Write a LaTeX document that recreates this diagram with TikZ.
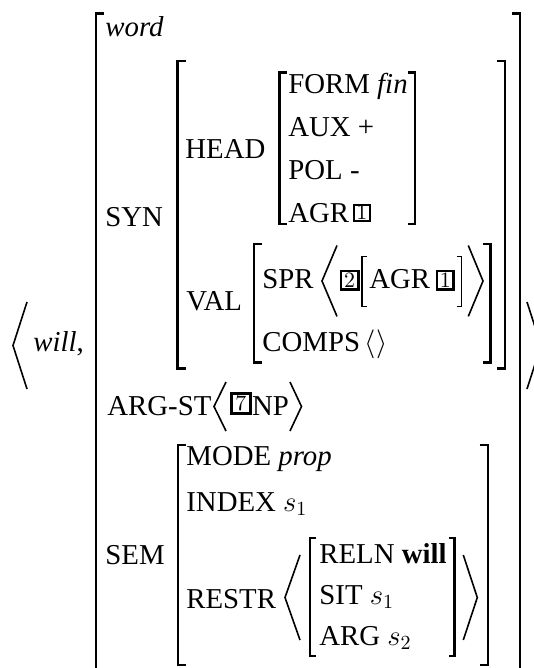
\documentclass[tikz,border=0pt]{standalone}
\usepackage[no-math]{fontspec}
\setmainfont{Liberation Serif}
\newcommand\avmsize{\fontsize{14.4}{17}\selectfont}
\newcommand\tagsize{\fontsize{11}{13}\selectfont}
% left / right square brackets of an attribute-value matrix:
% {x}{top}{bottom}{foot length}
\newcommand\avmL[4]{({#1+#4},#2) -| (#1,#3) -- ({#1+#4},#3)}
\newcommand\avmR[4]{({#1-#4},#2) -| (#1,#3) -- ({#1-#4},#3)}
\begin{document}
\begin{tikzpicture}[x=0.5pt,y=-0.5pt,
  lbl/.style={anchor=base west, inner sep=0pt, font=\avmsize},
  brk/.style={line width=1.15pt},
  outerbrk/.style={line width=1.35pt},
  thinbrk/.style={line width=0.65pt},
  ang/.style={line width=0.8pt},
  tagbox/.style={draw, line width=1.2pt, inner sep=0pt, font=\tagsize},
]
\useasboundingbox (0,0) rectangle (534,668);
\clip (0,0) rectangle (534,668);

% ---- outer list < will, [...] >
\draw[ang] (27,302) -- (13,345.5) -- (27,389);
\draw[ang] (527,302) -- (541,345.5) -- (527,389);
\node[lbl] (lex) at (33,351) {\textit{will},};

% ---- word-level matrix
\draw[outerbrk] \avmL{96}{13.6}{720}{8};
\draw[outerbrk] \avmR{520}{13.6}{720}{8};
\node[lbl] (type) at (105,36.5) {\textit{word}};

% ---- SYN
\node[lbl] (syn) at (105,226.5) {SYN};
\draw[brk] \avmL{177.5}{61}{368.5}{8};
\draw[brk] \avmR{505}{61}{368.5}{8};

% HEAD
\node[lbl] (head) at (185,158.4) {HEAD};
\draw[brk] \avmL{279.5}{72.5}{224}{7};
\draw[brk] \avmR{415}{72.5}{224}{7};
\node[lbl] (form) at (288,93.7) {FORM \textit{fin}};
\node[lbl] (aux) at (288,136.2) {AUX +};
\node[lbl] (pol) at (288,179.5) {POL -};
\node[lbl] (agr) at (288,222) {AGR};
\node[tagbox, minimum width=8.1pt, minimum height=8.1pt] (tagA) at (361.8,212.9) {$1$};

% VAL
\node[lbl] (val) at (186,310.3) {VAL};
\draw[brk] \avmL{254}{244}{362.5}{8};
\draw[brk] \avmR{490.5}{244}{362.5}{8};
\node[lbl] (spr) at (262,288) {SPR};
\draw[ang] (337,245.5) -- (322,281) -- (337,316.4);
\node[tagbox, minimum width=8.8pt, minimum height=9.3pt] (tagB) at (349.5,280) {$2$};
\draw[thinbrk] \avmL{362}{256.3}{306.3}{5};
\draw[thinbrk] \avmR{461.5}{256.3}{306.3}{5};
\node[lbl] (spragr) at (369,288) {AGR};
\node[tagbox, minimum width=8.1pt, minimum height=9.3pt] (tagC) at (445.3,280) {$1$};
\draw[ang] (468.3,245.5) -- (483,281) -- (468.3,316.4);
\node[lbl] (comps) at (262,351) {COMPS\,$\langle\rangle$};

% ---- ARG-ST
\node[lbl] (argst) at (107,415) {ARG-ST};
\draw[ang] (226,382) -- (214,406.5) -- (226,431);
\node[tagbox, line width=1.45pt, minimum width=9.4pt, minimum height=10.2pt] (tagD) at (240.8,403.3) {$7$};
\node[lbl] (np) at (251.7,415) {NP};
\draw[ang] (290,382) -- (301.5,406.5) -- (290,431);

% ---- SEM
\node[lbl] (sem) at (105,564.3) {SEM};
\draw[brk] \avmL{178}{445}{665}{8};
\draw[brk] \avmR{487.7}{445}{665}{8};
\node[lbl] (mode) at (186,465.5) {MODE \textit{prop}};
\node[lbl] (index) at (186,511.5) {INDEX $s_1$};
\node[lbl] (restr) at (186,608.6) {RESTR};
\draw[ang] (300,555) -- (285,597.5) -- (300,640);
\draw[brk] \avmL{310}{538.3}{655.7}{6};
\draw[brk] \avmR{454.5}{538.3}{655.7}{6};
\node[lbl] (reln) at (319,563.3) {RELN \textbf{will}};
\node[lbl] (sit) at (319,604) {SIT $s_1$};
\node[lbl] (arg) at (319,645) {ARG $s_2$};
\draw[ang] (463.3,555) -- (477.3,597.5) -- (463.3,640);
\end{tikzpicture}
\end{document}
